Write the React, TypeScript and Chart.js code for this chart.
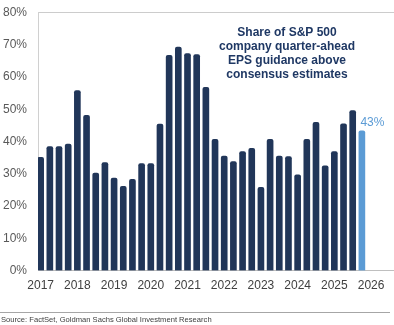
import React, { useEffect, useRef } from "react";
import { Chart, registerables } from "chart.js";

Chart.register(...registerables);

// Quarterly share (%) of S&P 500 companies with quarter-ahead EPS guidance above consensus, 2017Q1..2025Q4
const quarterLabels = [
  "2017Q1", "2017Q2", "2017Q3", "2017Q4",
  "2018Q1", "2018Q2", "2018Q3", "2018Q4",
  "2019Q1", "2019Q2", "2019Q3", "2019Q4",
  "2020Q1", "2020Q2", "2020Q3", "2020Q4",
  "2021Q1", "2021Q2", "2021Q3", "2021Q4",
  "2022Q1", "2022Q2", "2022Q3", "2022Q4",
  "2023Q1", "2023Q2", "2023Q3", "2023Q4",
  "2024Q1", "2024Q2", "2024Q3", "2024Q4",
  "2025Q1", "2025Q2", "2025Q3", "2025Q4",
];
const shareValues = [
  35.1, 38.4, 38.4, 39.2,
  55.8, 48.1, 30.2, 33.5,
  28.7, 26.1, 28.3, 33.2,
  33.2, 45.4, 66.7, 69.2,
  67.2, 66.9, 56.8, 40.7,
  35.5, 33.8, 36.9, 37.9,
  25.8, 40.7, 35.5, 35.3,
  29.7, 40.7, 45.9, 32.5,
  36.9, 45.5, 49.6, 43.3,
];
const yearTickLabels = [2017, 2018, 2019, 2020, 2021, 2022, 2023, 2024, 2025, 2026];
const yTickValues = [0, 10, 20, 30, 40, 50, 60, 70, 80];
const titleLines = [
  "Share of S&P 500",
  "company quarter-ahead",
  "EPS guidance above",
  "consensus estimates",
];
const latestLabel = "43%";
const sourceText = "Source: FactSet, Goldman Sachs Global Investment Research";

const NAVY = "#213659";
const LIGHT_BLUE = "#5b9bd5";
const FONT = "'Liberation Sans', Arial, sans-serif";

export default function App() {
  const canvasRef = useRef<HTMLCanvasElement | null>(null);

  useEffect(() => {
    const canvas = canvasRef.current;
    if (!canvas) return;

    const annotations = {
      id: "annotations",
      afterDraw(chart: any) {
        const ctx = chart.ctx;
        ctx.save();
        // Title block inside plot
        ctx.fillStyle = "#1f3864";
        ctx.font = `bold 12px ${FONT}`;
        ctx.textAlign = "center";
        ctx.textBaseline = "middle";
        const ys = [33, 47, 61, 75];
        titleLines.forEach((line, i) => ctx.fillText(line, 287, ys[i]));

        // Latest value label
        const meta = chart.getDatasetMeta(0);
        const bar = meta.data[meta.data.length - 1];
        if (bar) {
          ctx.fillStyle = LIGHT_BLUE;
          ctx.font = `12px ${FONT}`;
          ctx.textAlign = "left";
          ctx.textBaseline = "middle";
          ctx.fillText(latestLabel, bar.x - 1.5, bar.y - 8);
        }

        // Source separator and text
        ctx.strokeStyle = "#a6a6a6";
        ctx.lineWidth = 1;
        ctx.beginPath();
        ctx.moveTo(0, 312.5);
        ctx.lineTo(390, 312.5);
        ctx.stroke();
        ctx.fillStyle = "#404040";
        ctx.font = `7.6px ${FONT}`;
        ctx.textAlign = "left";
        ctx.textBaseline = "middle";
        ctx.fillText(sourceText, 1, 320);
        ctx.restore();
      },
    };

    const chart = new Chart(canvas, {
      type: "bar",
      data: {
        labels: quarterLabels,
        datasets: [
          {
            data: shareValues.map((v, i) => ({ x: i, y: v })) as any,
            backgroundColor: shareValues.map((_, i) =>
              i === shareValues.length - 1 ? LIGHT_BLUE : NAVY
            ),
            barThickness: 6,
            borderRadius: 2,
            borderSkipped: "start",
          },
        ],
      },
      options: {
        responsive: false,
        animation: false,
        layout: { padding: { top: 12.3, left: 3, right: 0, bottom: 0 } },
        plugins: {
          legend: { display: false },
          tooltip: { enabled: false },
          title: { display: false },
        },
        scales: {
          x: {
            type: "linear",
            offset: false,
            min: -0.29,
            max: 38.5,
            grid: { display: false, drawTicks: false, offset: false },
            border: { display: true, color: "#bfbfbf", width: 1 },
            afterBuildTicks: (scale: any) => {
              scale.ticks = yearTickLabels.map((y) => ({ value: (y - 2017) * 4 }));
            },
            afterFit: (scale: any) => {
              scale.height = 54.3;
              scale.paddingLeft = 0;
              scale.paddingRight = 0;
            },
            ticks: {
              autoSkip: false,
              maxRotation: 0,
              padding: 8,
              color: "#404040",
              font: { family: FONT, size: 12 },
              callback: (v: any) => String(2017 + Number(v) / 4),
            },
          },
          y: {
            min: 0,
            max: 80,
            grid: {
              drawTicks: false,
              color: (c: any) =>
                c.tick && c.tick.value === 80 ? "#cccccc" : "rgba(0,0,0,0)",
            },
            border: { display: true, color: "#d0d0d0", width: 1 },
            afterBuildTicks: (scale: any) => {
              scale.ticks = yTickValues.map((v) => ({ value: v }));
            },
            afterFit: (scale: any) => {
              scale.width = 35;
              scale.paddingTop = 0;
              scale.paddingBottom = 0;
            },
            ticks: {
              padding: 11,
              color: "#595959",
              font: { family: FONT, size: 12 },
              callback: (v: any) => `${v}%`,
            },
          },
        },
      },
      plugins: [annotations],
    });

    return () => chart.destroy();
  }, []);

  return (
    <div
      style={{
        position: "fixed",
        left: 0,
        top: 0,
        width: 394,
        height: 325,
        background: "#ffffff",
      }}
    >
      <canvas ref={canvasRef} width={394} height={325} />
    </div>
  );
}
